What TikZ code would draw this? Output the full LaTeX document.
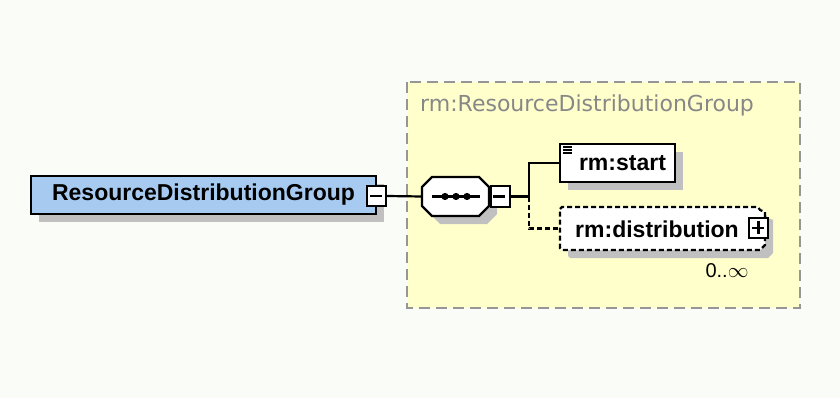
\documentclass[tikz,border=0pt]{standalone}
\usepackage{fontspec}
\setmainfont{Liberation Sans}
\newfontfamily\titlefont{DejaVu Sans}
\usetikzlibrary{positioning,shadows}
\definecolor{bgwhite}{RGB}{250,252,248}
\definecolor{elemblue}{RGB}{166,202,240}
\definecolor{groupyellow}{RGB}{255,255,204}
\definecolor{shadowgray}{RGB}{192,192,192}
\definecolor{groupgray}{RGB}{150,150,150}
\definecolor{titlegray}{RGB}{135,135,135}
\tikzset{
  boxshadow/.style={drop shadow={shadow xshift=8pt,shadow yshift=-8pt,fill=shadowgray,opacity=1}},
  elem/.style={draw,line width=2.4pt,fill=white,inner sep=0pt,font=\bfseries\fontsize{23}{23}\selectfont},
  toggle/.style={draw,line width=2pt,fill=white,minimum width=19pt,minimum height=20pt,inner sep=0pt},
  wire/.style={line width=2.2pt},
  dashwire/.style={line width=2.2pt,dash pattern=on 5pt off 3pt}
}
\begin{document}
\begin{tikzpicture}[x=1pt,y=-1pt]
\useasboundingbox[fill=bgwhite](0,0) rectangle (840,398);
% group box
\draw[groupgray,fill=groupyellow,line width=1.8pt,dash pattern=on 11pt off 6pt](407,82) rectangle (800,308);
\node[anchor=west,titlegray,font=\titlefont\fontsize{22}{22}\selectfont,inner sep=0pt] (title) at (420,105) {rm:ResourceDistributionGroup};
% root element
\node[elem,fill=elemblue,boxshadow,minimum width=345pt,minimum height=38pt] (root) at (203.5,195) {ResourceDistributionGroup};
\node[toggle] (rootminus) at (376.5,196) {};
\draw[wire](rootminus.west)++(3.5,0)--++(12,0);
% sequence
\node[minimum width=67pt,minimum height=39pt,inner sep=0pt] (seq) at (455.5,196.5) {};
\fill[shadowgray,shift={(8,8)}](432,177)--(479,177)--(489,187)--(489,206)--(479,216)--(432,216)--(422,206)--(422,187)--cycle;
\draw[line width=2.4pt,fill=white](432,177)--(479,177)--(489,187)--(489,206)--(479,216)--(432,216)--(422,206)--(422,187)--cycle;
\draw[wire](432,196.5)--(480,196.5);
\foreach \x in {445,456,467} \fill (\x,196.5) circle (3.6pt);
\node[toggle,minimum height=21pt] (seqminus) at (500,196.5) {};
\draw[wire](seqminus.west)++(3.5,0)--++(12,0);
% children
\node[elem,boxshadow,minimum width=115pt,minimum height=38pt] (start) at (617.5,163) {\hspace*{10pt}rm:start};
\foreach \y in {147,150,153} \draw[line width=1.4pt](563,\y)--(572,\y);
\node[minimum width=205pt,minimum height=43pt,inner sep=0pt] (distr) at (662.5,228.5) {};
\fill[shadowgray,shift={(8,8)}](560,209)--(562,207)--(758,207)--(760,210)--(765,212)--(765,245)--(760,250)--(562,250)--(560,248)--cycle;
\draw[fill=white,dashwire](560,209)--(562,207)--(758,207)--(760,210)--(765,212)--(765,245)--(760,250)--(562,250)--(560,248)--cycle;
\node[font=\bfseries\fontsize{23}{23}\selectfont,inner sep=0pt] (distrtext) at (657,229) {rm:distribution};
\node[toggle] (distrplus) at (758.5,228) {};
\draw[wire](distrplus.west)++(3.5,0)--++(12,0) (distrplus.north)++(0,3.5)--++(0,13);
\node[font=\fontsize{20}{20}\selectfont,inner sep=0pt] (occurs) at (727,271) {0..$\infty$};
% connectors
\draw[wire](rootminus.east)--(seq.west);
\coordinate (fork) at (529,196.5);
\draw[wire](seqminus.east)--(fork);
\draw[wire](fork)|-(start.west);
\draw[dashwire](fork)|-(distr.west);
\end{tikzpicture}
\end{document}
